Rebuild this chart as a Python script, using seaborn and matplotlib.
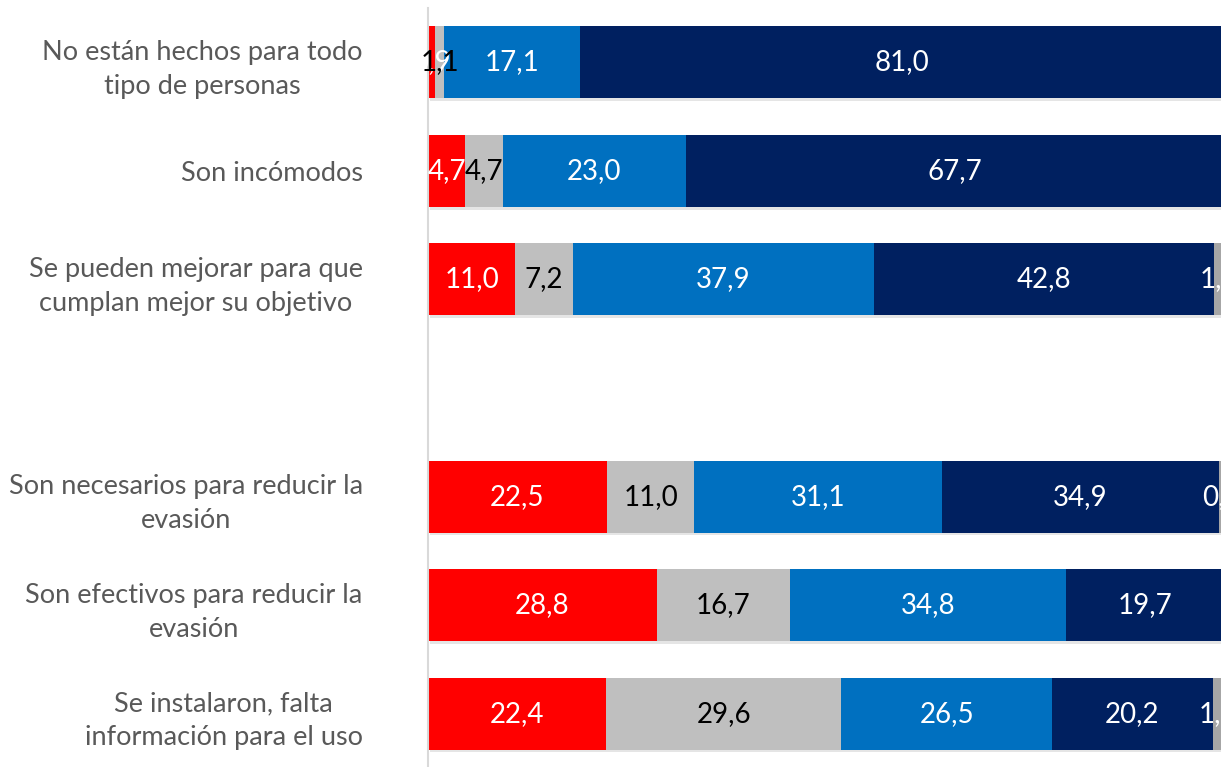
import numpy as np
import pandas as pd
import matplotlib
matplotlib.use("Agg")
import matplotlib.pyplot as plt
import matplotlib.patheffects as pe
import seaborn as sns

# ── DATA ──────────────────────────────────────────────────────────────────────
categories = [
    "No están hechos para todo\ntipo de personas",
    "Son incómodos",
    "Se pueden mejorar para que\ncumplan mejor su objetivo",
    "",
    "Son necesarios para reducir la\nevasión",
    "Son efectivos para reducir la\nevasión",
    "Se instalaron, falta\ninformación para el uso",
]
seg_red   = [0.9, 4.7, 11.0, np.nan, 22.5, 28.8, 22.4]
seg_gray  = [1.1, 4.7, 7.2, np.nan, 11.0, 16.7, 29.6]
seg_blue  = [17.1, 23.0, 37.9, np.nan, 31.1, 34.8, 26.5]
seg_navy  = [81.0, 67.7, 42.8, np.nan, 34.9, 19.7, 20.2]
seg_other = [0.0, 0.0, 1.1, np.nan, 0.6, 0.0, 1.3]

segments = [seg_red, seg_gray, seg_blue, seg_navy, seg_other]
colors   = ["#FF0000", "#BFBFBF", "#0070C0", "#002060", "#A6A6A6"]
txt_cols = ["white", "black", "white", "white", "white"]

# ── STYLE ─────────────────────────────────────────────────────────────────────
sns.set_theme(style="white")
plt.rcParams["font.family"] = ["Lato", "DejaVu Sans"]

fig = plt.figure(figsize=(12.21, 7.67), dpi=100)
ax = fig.add_axes([428 / 1221, -1 / 767, 795 / 1221, 760 / 767])

vals = np.nan_to_num(np.array(segments, dtype=float))
cum = np.cumsum(vals, axis=0)

# stacked bars: draw cumulative totals from the longest down
for k in range(len(segments) - 1, -1, -1):
    df = pd.DataFrame({"cat": categories, "val": cum[k]})
    df = df[df["cat"] != ""]
    n_before = len(ax.patches)
    sns.barplot(data=df, x="val", y="cat", order=categories, color=colors[k],
                width=0.663, orient="h", errorbar=None, saturation=1, ax=ax)
    for p in ax.patches[n_before:]:
        p.set_edgecolor("none")
        if k == len(segments) - 1:
            p.set_path_effects([pe.SimplePatchShadow(offset=(1.5, -2), alpha=0.1,
                                                     shadow_rgbFace="black"), pe.Normal()])

# value labels
for i, cat in enumerate(categories):
    if cat == "":
        continue
    left = 0.0
    for k, seg in enumerate(segments):
        v = seg[i]
        if v > 0:
            ax.text(left + v / 2, i, f"{v:.1f}".replace(".", ","), ha="center", va="center",
                    fontsize=20, color=txt_cols[k], clip_on=False)
        left += v

ax.set_xlim(0, 100)
ax.set_ylim(6.5, -0.5)
ax.set_xlabel("")
ax.set_ylabel("")
ax.set_xticks([])
ax.tick_params(axis="y", length=0, pad=47, labelsize=19.5, labelcolor="#595959")
for lab in ax.get_yticklabels():
    lab.set_multialignment("center")
    lab.set_linespacing(1.45)
for s in ["top", "right", "bottom"]:
    ax.spines[s].set_visible(False)
ax.spines["left"].set_color("#D9D9D9")
ax.spines["left"].set_linewidth(1.5)

fig.savefig("out.png", dpi=100)
